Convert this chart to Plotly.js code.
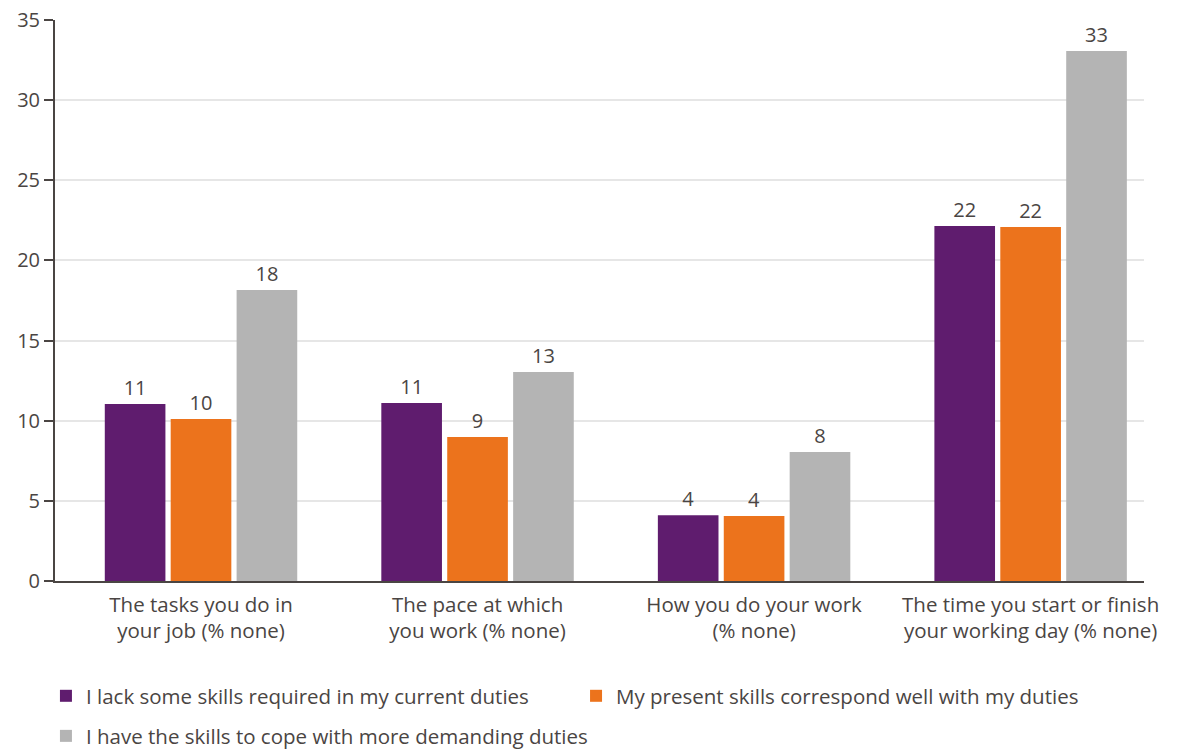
<!DOCTYPE html>
<html>
<head>
<meta charset="utf-8">
<script src="https://cdn.plot.ly/plotly-3.0.1.min.js"></script>
<style>html,body{margin:0;padding:0;background:#fff;}#chart{width:1178px;height:749px;}</style>
</head>
<body>
<div id="chart"></div>
<script>
const categories = [
  "The tasks you do in<br>your job (% none)",
  "The pace at which<br>you work (% none)",
  "How you do your work<br>(% none)",
  "The time you start or finish<br>your working day (% none)"
];
const seriesNames = [
  "I lack some skills required in my current duties",
  "My present skills correspond well with my duties",
  "I have the skills to cope with more demanding duties"
];
const lackSkills = [11.05, 11.1, 4.1, 22.15];
const correspondWell = [10.1, 8.98, 4.05, 22.08];
const moreDemanding = [18.15, 13.04, 8.05, 33.06];
const yTicks = [0, 5, 10, 15, 20, 25, 30, 35];

const colors = ["#5f1c6e", "#ec731c", "#b4b4b4"];
const textColor = "#4a4543";
const fontFamily = "'Open Sans', sans-serif";
const allValues = [lackSkills, correspondWell, moreDemanding];
const legendIds = ["legend", "legend2", "legend3"];

const traces = allValues.map((vals, i) => ({
  type: "bar",
  name: seriesNames[i],
  x: categories,
  y: vals,
  legend: legendIds[i],
  marker: {color: colors[i]},
  text: vals.map(v => String(Math.round(v))),
  textposition: "outside",
  textfont: {family: fontFamily, size: 20, color: textColor},
  cliponaxis: false,
  hoverinfo: "none"
}));

function legendBox(x, y) {
  return {
    orientation: "h",
    x: x, xanchor: "left", xref: "container",
    y: y, yanchor: "top", yref: "container",
    font: {family: fontFamily, size: 20.5, color: textColor},
    itemclick: false, bgcolor: "rgba(0,0,0,0)"
  };
}

const layout = {
  width: 1178,
  height: 749,
  margin: {l: 55, r: 34, t: 20, b: 168},
  paper_bgcolor: "#ffffff",
  plot_bgcolor: "#ffffff",
  font: {family: fontFamily, size: 20, color: textColor},
  barmode: "group",
  bargap: 0.285,
  bargroupgap: 0.08,
  showlegend: true,
  legend: legendBox(0.039, 0.0975),
  legend2: legendBox(0.489, 0.0975),
  legend3: legendBox(0.039, 0.044),
  xaxis: {
    type: "category",
    range: [-0.528, 3.41],
    showgrid: false,
    showline: true, linecolor: textColor, linewidth: 2,
    ticks: "",
    ticklabelstandoff: 4,
    tickfont: {family: fontFamily, size: 20.5, color: textColor},
    fixedrange: true
  },
  yaxis: {
    range: [0, 35],
    tickvals: yTicks,
    ticktext: yTicks.map(String),
    showgrid: true, gridcolor: "#e6e6e6", gridwidth: 2,
    showline: true, linecolor: textColor, linewidth: 2,
    ticks: "outside", ticklen: 9, tickwidth: 2, tickcolor: textColor,
    tickfont: {family: fontFamily, size: 20, color: textColor},
    zeroline: false,
    fixedrange: true
  }
};

Plotly.newPlot("chart", traces, layout, {displayModeBar: false, staticPlot: true});
</script>
</body>
</html>
